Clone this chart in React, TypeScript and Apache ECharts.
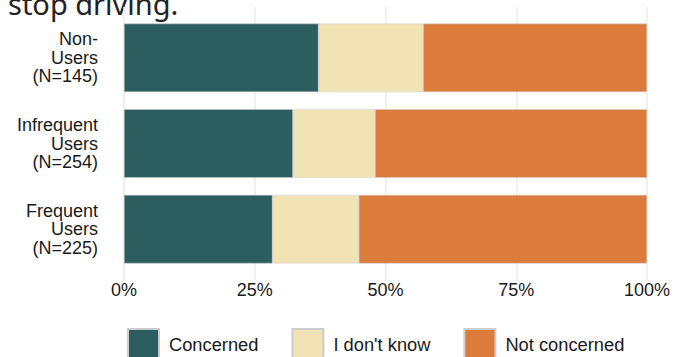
import React, { useEffect, useRef } from "react";
import * as echarts from "echarts";

const categories = ["Non-\nUsers\n(N=145)", "Infrequent\nUsers\n(N=254)", "Frequent\nUsers\n(N=225)"];
const seriesNames = ["Concerned", "I don't know", "Not concerned"];
const concerned = [37.2, 32.3, 28.4];
const dontKnow = [20.0, 15.7, 16.5];
const notConcerned = [42.8, 52.0, 55.1];
const xTicks = [0, 25, 50, 75, 100];
const colors = ["#2d5e5f", "#f2e3b5", "#db7c3c"];
const titleTail = "stop driving.";

export default function App() {
  const ref = useRef<HTMLDivElement>(null);
  useEffect(() => {
    if (!ref.current) return;
    const chart = echarts.init(ref.current, undefined, { renderer: "svg" });
    const font = "'Liberation Sans', Arial, sans-serif";
    const values = [concerned, dontKnow, notConcerned];
    chart.setOption({
      animation: false,
      backgroundColor: "#ffffff",
      graphic: [
        {
          type: "text",
          left: 8,
          top: -11,
          style: {
            text: titleTail,
            font: "400 29px 'Noto Sans', sans-serif",
            fill: "#222222",
          },
        },
      ],
      grid: [
        { left: 124, right: 36, top: 15, bottom: 85 },
        { left: 124, right: 36, top: 7, bottom: 77 },
      ],
      xAxis: [
        {
          type: "value",
          gridIndex: 0,
          min: xTicks[0],
          max: xTicks[xTicks.length - 1],
          interval: 25,
          axisLine: { show: false },
          axisTick: { show: false },
          splitLine: { show: false },
          axisLabel: {
            formatter: "{value}%",
            fontSize: 18,
            fontFamily: font,
            color: "#1a1a1a",
            margin: 9,
            lineHeight: 18,
          },
        },
        {
          type: "value",
          gridIndex: 1,
          min: xTicks[0],
          max: xTicks[xTicks.length - 1],
          interval: 25,
          axisLine: { show: false },
          axisTick: { show: false },
          axisLabel: { show: false },
          splitLine: { show: true, lineStyle: { color: "#ebebeb", width: 1.5 } },
        },
      ],
      yAxis: [
        {
          type: "category",
          gridIndex: 0,
          data: categories,
          inverse: true,
          axisLine: { show: false },
          axisTick: { show: false },
          splitLine: { show: false },
          axisLabel: {
            fontSize: 18,
            fontFamily: font,
            color: "#1a1a1a",
            lineHeight: 18.5,
            margin: 26,
            align: "right",
          },
        },
        { type: "value", gridIndex: 1, show: false },
      ],
      legend: {
        data: seriesNames,
        left: 127,
        top: 328,
        padding: 0,
        icon: "rect",
        itemWidth: 31,
        itemHeight: 31,
        itemGap: 33,
        textStyle: {
          fontSize: 18.3,
          fontFamily: font,
          color: "#1a1a1a",
          padding: [0, 0, 0, 5],
        },
      },
      series: seriesNames.map((name, i) => ({
        name,
        type: "bar",
        stack: "total",
        xAxisIndex: 0,
        yAxisIndex: 0,
        data: values[i],
        barWidth: "80%",
        itemStyle: { color: colors[i], borderColor: "#cccccc", borderWidth: 0.5 },
      })),
    });
    return () => chart.dispose();
  }, []);
  return (
    <div
      ref={ref}
      style={{ position: "fixed", left: 0, top: 0, width: 683, height: 357 }}
    />
  );
}
